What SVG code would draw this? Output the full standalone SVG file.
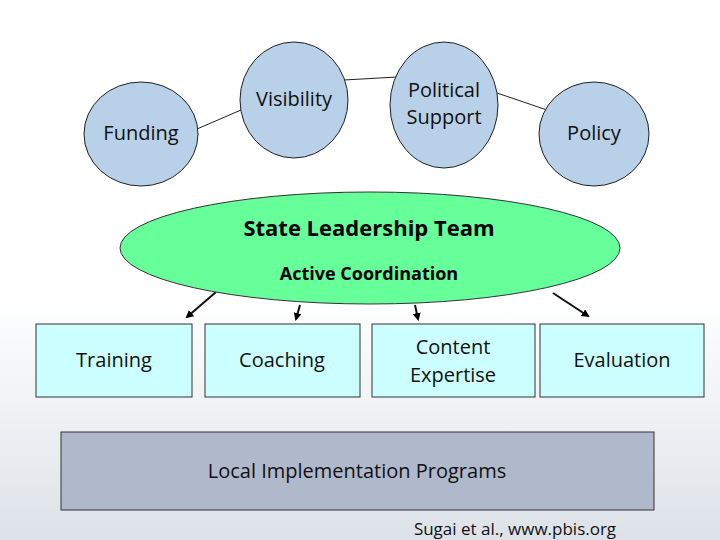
<svg xmlns="http://www.w3.org/2000/svg" width="720" height="540" viewBox="0 0 720 540">
<defs>
<linearGradient id="bg" x1="0" y1="0" x2="0" y2="1"><stop offset="0.55" stop-color="#ffffff"/><stop offset="1" stop-color="#dde2e8"/></linearGradient>
<marker id="ah" markerWidth="8" markerHeight="8" refX="6" refY="4" orient="auto" markerUnits="userSpaceOnUse"><path d="M0,0 L8,4 L0,8 z" fill="#000"/></marker>
<style>
.c{fill:#b8d0e8;stroke:#222;stroke-width:1}
.b{fill:#ccffff;stroke:#333;stroke-width:1}
.t{font-family:"Open Sans","DejaVu Sans",sans-serif;font-size:20px;fill:#111;text-anchor:middle}
.k{font-family:"Open Sans","DejaVu Sans",sans-serif;font-weight:bold;fill:#000;text-anchor:middle}
.l{stroke:#222;stroke-width:1;fill:none}
.a{stroke:#111;stroke-width:2;fill:none;marker-end:url(#ah)}
</style>
</defs>
<rect width="720" height="540" fill="url(#bg)"/>
<g id="connectors">
<line class="l" x1="197" y1="129" x2="241" y2="110"/>
<line class="l" x1="344" y1="80" x2="397" y2="77"/>
<line class="l" x1="497" y1="93" x2="547" y2="110"/>
<line class="a" x1="216" y1="292" x2="187" y2="317"/>
<line class="a" x1="300" y1="305" x2="296" y2="319"/>
<line class="a" x1="415" y1="305" x2="418" y2="319"/>
<line class="a" x1="553" y1="293" x2="588" y2="316"/>
</g>
<g id="funding"><ellipse class="c" cx="141" cy="134" rx="57" ry="52"/><text class="t" x="141" y="140">Funding</text></g>
<g id="visibility"><ellipse class="c" cx="294" cy="100" rx="54" ry="58"/><text class="t" x="294" y="106">Visibility</text></g>
<g id="political"><ellipse class="c" cx="444" cy="105" rx="54" ry="63"/><text class="t" x="444" y="97">Political</text><text class="t" x="444" y="124">Support</text></g>
<g id="policy"><ellipse class="c" cx="594" cy="134" rx="55" ry="52"/><text class="t" x="594" y="140">Policy</text></g>
<g id="slt"><ellipse cx="370" cy="248" rx="250" ry="56" fill="#66ff99" stroke="#333"/><text class="k" x="369" y="236" font-size="22">State Leadership Team</text><text class="k" x="369" y="280" font-size="18">Active Coordination</text></g>
<g id="training"><rect class="b" x="36" y="324" width="156" height="73"/><text class="t" x="114" y="367">Training</text></g>
<g id="coaching"><rect class="b" x="205" y="324" width="155" height="73"/><text class="t" x="282" y="367">Coaching</text></g>
<g id="content"><rect class="b" x="372" y="324" width="163" height="73"/><text class="t" x="453" y="354">Content</text><text class="t" x="453" y="382">Expertise</text></g>
<g id="evaluation"><rect class="b" x="540" y="324" width="164" height="73"/><text class="t" x="622" y="367">Evaluation</text></g>
<g id="local"><rect x="61" y="432" width="593" height="78" fill="#b0b8cc" stroke="#333"/><text class="t" x="357" y="478">Local Implementation Programs</text></g>
<text class="t" x="515" y="535" style="font-size:17px">Sugai et al., www.pbis.org</text>
</svg>
